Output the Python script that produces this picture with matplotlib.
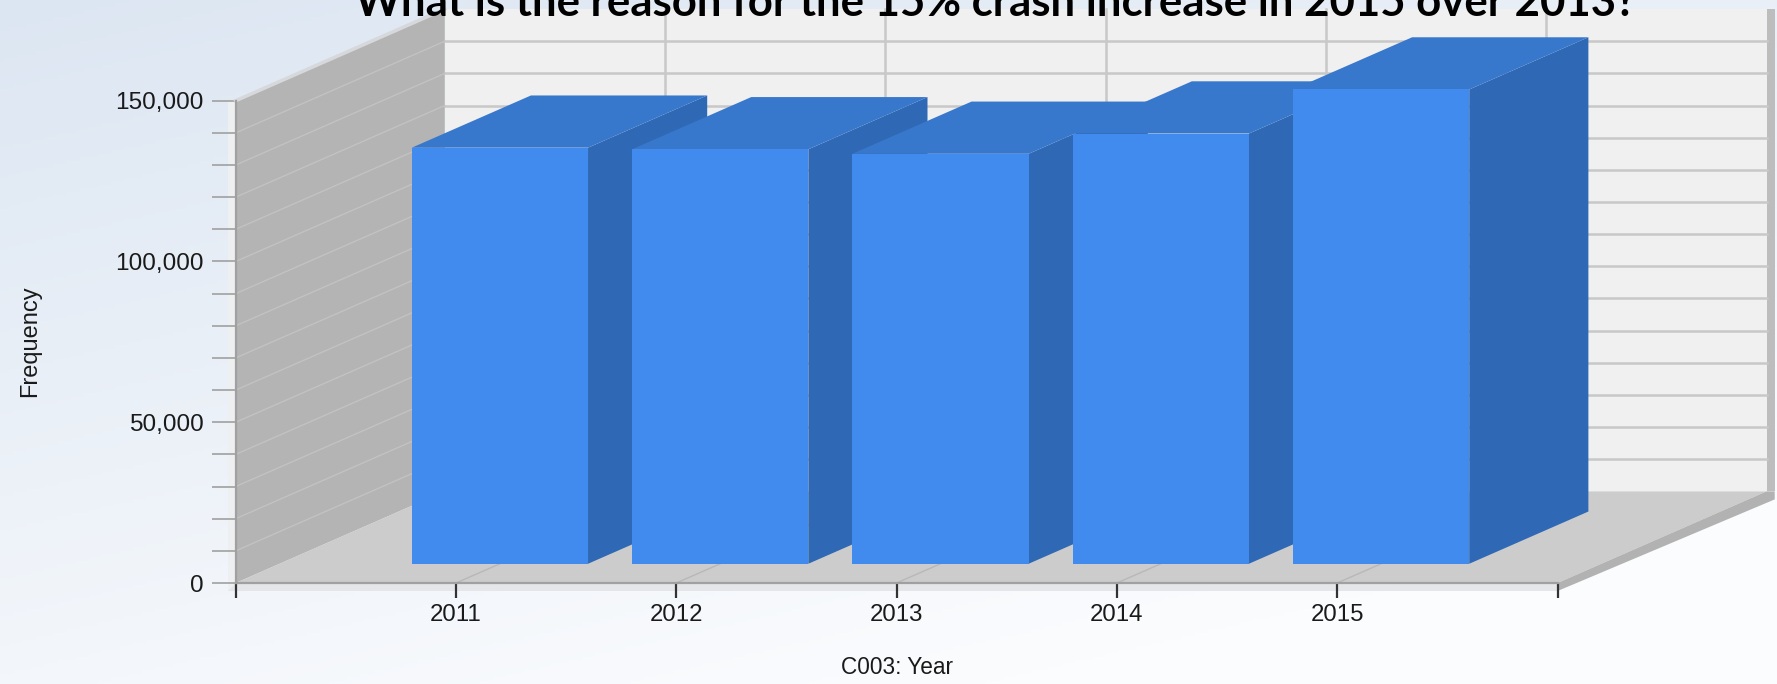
import numpy as np
import matplotlib
matplotlib.use('Agg')
import matplotlib.pyplot as plt
from matplotlib.patches import Polygon
from matplotlib.ticker import MultipleLocator

plt.rcParams['font.family'] = ['Liberation Sans', 'DejaVu Sans']

# Data
years = ['2011', '2012', '2013', '2014', '2015']
freq = [129400, 128900, 127500, 133800, 147500]
y_labels = [0, 50000, 100000, 150000]

# pseudo-3D settings (depth shift in data units)
DX = 0.949      # categories
DY = 28500      # frequency units
Z1, Z2 = 0.21, 0.78
HALF = 0.4
YMAX = 150000
NX = len(years) + 1


def proj(x, y, z):
    return (x + z * DX, y + z * DY)


fig = plt.figure(figsize=(17.77, 6.84), dpi=100)

# background gradient
bg = fig.add_axes([0, 0, 1, 1], zorder=-10)
h, w = 200, 400
yy, xx = np.mgrid[0:1:h * 1j, 0:1:w * 1j]
s = np.clip(0.75 * yy + 0.45 * xx, 0, 1)[..., None]
top = np.array([220, 230, 242]) / 255
bot = np.array([251, 252, 254]) / 255
bg.imshow(top * (1 - s) + bot * s, aspect='auto', extent=[0, 1, 0, 1], origin='upper')
bg.axis('off')

ax = fig.add_axes([235.7 / 1777, 101 / 684, 1321.8 / 1777, 482.3 / 684])
ax.set_xlim(0, NX)
ax.set_ylim(0, YMAX)
ax.patch.set_visible(False)

t = 2500  # wall thickness in value units
tx = 0.037  # wall thickness in category units

# walls
back = [proj(0, 0, 1), proj(NX, 0, 1), proj(NX, YMAX, 1), proj(0, YMAX, 1)]
left = [proj(0, 0, 0), proj(0, 0, 1), proj(0, YMAX, 1), proj(0, YMAX, 0)]
floor = [proj(0, 0, 0), proj(NX, 0, 0), proj(NX, 0, 1), proj(0, 0, 1)]
ax.add_patch(Polygon(back, closed=True, fc='#F0F0F0', ec='none', zorder=1, clip_on=False))
ax.add_patch(Polygon(left, closed=True, fc='#B4B4B4', ec='none', zorder=1, clip_on=False))
ax.add_patch(Polygon(floor, closed=True, fc='#CCCCCC', ec='none', zorder=1, clip_on=False))

# wall edges (thickness)
bx, by = proj(NX, 0, 1)
ax.add_patch(Polygon([(NX, 0), (bx, by), (bx + tx, by), (bx + tx, by - t), (NX, -t)],
                     closed=True, fc='#B2B2B2', ec='none', zorder=1, clip_on=False))
ax.add_patch(Polygon([(bx, by), (bx + tx, by), (bx + tx, YMAX + by), (bx, YMAX + by)],
                     closed=True, fc='#BDBDBD', ec='none', zorder=1, clip_on=False))
ax.add_patch(Polygon([(-tx, -t), (0, -t), (0, YMAX), (-tx, YMAX)],
                     closed=True, fc='#EDEFF1', ec='none', zorder=1, clip_on=False))
ax.add_patch(Polygon([(-tx, -t), (NX, -t), (NX, 0), (0, 0)],
                     closed=True, fc='#E4E6E9', ec='none', zorder=1, clip_on=False))
# light edge along the top of the left wall
p0, p1 = proj(0, YMAX, 0), proj(0, YMAX, 1)
ax.plot([p0[0], p1[0]], [p0[1], p1[1]], color='#D6D8DB', lw=2.5, zorder=2, clip_on=False)

# grid lines
for v in range(10000, YMAX, 10000):
    p0, p1 = proj(0, v, 1), proj(NX, v, 1)
    ax.plot([p0[0], p1[0]], [p0[1], p1[1]], color='#C8C8C8', lw=1.8, zorder=2, clip_on=False)
for v in range(10000, YMAX, 10000):
    p0, p1 = proj(0, v, 0), proj(0, v, 1)
    ax.plot([p0[0], p1[0]], [p0[1], p1[1]], color='#C2C2C2', lw=1.0, zorder=2, clip_on=False)
for k in range(1, NX):
    p0, p1 = proj(k, 0, 1), proj(k, YMAX, 1)
    ax.plot([p0[0], p1[0]], [p0[1], p1[1]], color='#C8C8C8', lw=1.8, zorder=2, clip_on=False)
    p0, p1 = proj(k, 0, 0), proj(k, 0, 1)
    ax.plot([p0[0], p1[0]], [p0[1], p1[1]], color='#B8B8B8', lw=1.0, zorder=2, clip_on=False)

# bars, left to right
for i, v in enumerate(freq):
    x = i + 1
    front = [proj(x - HALF, 0, Z1), proj(x + HALF, 0, Z1), proj(x + HALF, v, Z1), proj(x - HALF, v, Z1)]
    side = [proj(x + HALF, 0, Z1), proj(x + HALF, 0, Z2), proj(x + HALF, v, Z2), proj(x + HALF, v, Z1)]
    topf = [proj(x - HALF, v, Z1), proj(x + HALF, v, Z1), proj(x + HALF, v, Z2), proj(x - HALF, v, Z2)]
    zb = 5 + i
    ax.add_patch(Polygon(side, closed=True, fc='#2F68B4', ec='none', zorder=zb, clip_on=False))
    ax.add_patch(Polygon(topf, closed=True, fc='#3878CC', ec='none', zorder=zb, clip_on=False))
    ax.add_patch(Polygon(front, closed=True, fc='#418BEE', ec='none', zorder=zb + 0.5, clip_on=False))

# axes
for sp in ['top', 'right']:
    ax.spines[sp].set_visible(False)
for sp in ['left', 'bottom']:
    ax.spines[sp].set_color('#A0A0A0')
    ax.spines[sp].set_linewidth(1.6)
    ax.spines[sp].set_zorder(3)

ax.set_yticks(y_labels)
ax.set_yticklabels([f'{v:,}' for v in y_labels])
ax.yaxis.set_minor_locator(MultipleLocator(10000))
ax.tick_params(axis='y', which='both', length=17, width=1.2, color='#A0A0A0',
               labelsize=17.6, labelcolor='#1A1A1A', pad=6)
ax.set_xticks(range(NX + 1))
ax.set_xticklabels([''] + years + [''])
ax.tick_params(axis='x', length=11, width=1.6, color='#333333',
               labelsize=17.3, labelcolor='#1A1A1A', pad=4)

fig.text(30 / 1777, 1 - 341 / 684, 'Frequency', rotation=90, ha='center', va='center',
         fontsize=17, color='#1A1A1A')
fig.text(896.6 / 1777, 1 - 667 / 684, 'C003: Year', ha='center', va='center',
         fontsize=16.3, color='#1A1A1A')

fig.text(996 / 1777, 1 - 16 / 684,
         'What is the reason for the 15% crash increase in 2015 over 2013?',
         ha='center', va='baseline', fontsize=31.5, fontweight='bold',
         family=['Lato', 'DejaVu Sans'], color='black', zorder=20)

fig.savefig('out.png', dpi=100)
